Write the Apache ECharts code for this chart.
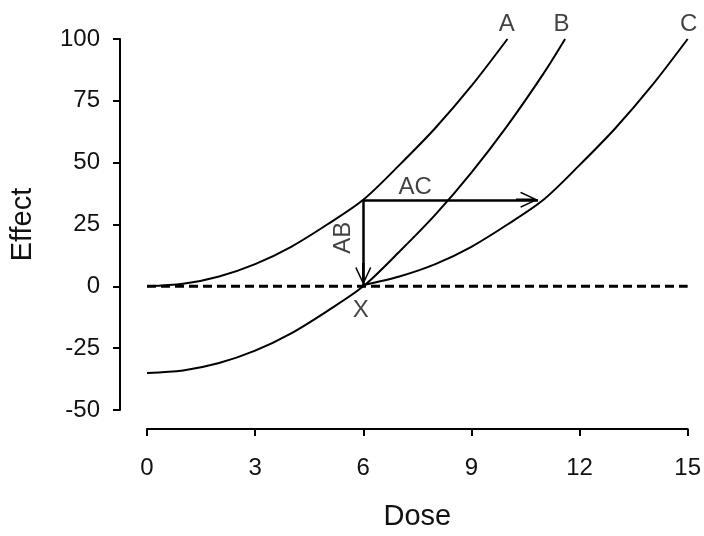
<!DOCTYPE html>
<html>
<head>
<meta charset="utf-8">
<script src="https://cdn.jsdelivr.net/npm/echarts@6/dist/echarts.min.js"></script>
<style>
  html, body { margin: 0; padding: 0; background: #fff; }
  #main { width: 704px; height: 536px; }
</style>
</head>
<body>
<div id="main"></div>
<script>
    // curves
    var doseA = [0, 1, 2, 3, 4, 5, 6, 7, 8, 9, 10];
    var effectA = [0, 1, 4, 9, 16, 25, 35, 49, 64, 81, 100];
    var doseB = [0, 1, 2, 3, 4, 5, 6, 7, 8, 9, 10, 11, 11.6];
    var effectB = [-35, -34, -31, -26, -19, -10, 0, 14, 29, 46, 65, 86, 100];
    var doseC = [6, 7, 8, 9, 10, 11, 12, 13, 14, 15];
    var effectC = [0.5, 4, 9, 16, 25, 35, 49, 64, 81, 100];
    var baseDose = [0, 15];
    var baseEffect = [0, 0];

    // arrows AB (down) and AC (right)
    var arrowFrom = [[6, 35], [6, 35]];
    var arrowTo = [[6, 0.5], [10.85, 35]];

    // text notes
    var noteText = ['A', 'B', 'C', 'AB', 'AC', 'X'];
    var noteX = [9.98, 11.5, 15.03, 5.46, 7.44, 5.93];
    var noteY = [106, 106, 106, 19.6, 40.2, -9.7];
    var noteRotate = [0, 0, 0, 90, 0, 0];

    function pairs(xs, ys) {
        return xs.map(function (x, i) { return [x, ys[i]]; });
    }

    var font = "'Liberation Sans', Arial, sans-serif";
    var ink = '#111';
    // arrow head with stem, tip at top
    var arrowHead = 'path://M0,0L8,17L6.8,18L1.2,6L1.2,22L-1.2,22L-1.2,6L-6.8,18L-8,17Z';

    var myChart = echarts.init(document.getElementById('main'));
    var option = {
        backgroundColor: '#fff',
        animation: false,
        grid: { left: 145, right: 15, top: 39, bottom: 118 },
        xAxis: {
            type: 'value',
            min: 0, max: 15, interval: 3,
            offset: 19,
            name: 'Dose',
            nameLocation: 'middle',
            nameGap: 73,
            nameTextStyle: { fontSize: 29, color: ink, fontFamily: font },
            axisLine: { onZero: false, lineStyle: { color: '#000', width: 2 } },
            axisTick: { length: 7, lineStyle: { color: '#000', width: 2 } },
            axisLabel: { fontSize: 24, color: ink, margin: 27, fontFamily: font },
            splitLine: { show: false }
        },
        yAxis: {
            type: 'value',
            min: -50, max: 100, interval: 25,
            offset: 27,
            name: 'Effect',
            nameLocation: 'middle',
            nameGap: 83,
            nameTextStyle: { fontSize: 29, color: ink, fontFamily: font },
            axisLine: { onZero: false, lineStyle: { color: '#000', width: 2 } },
            axisTick: { length: 7, lineStyle: { color: '#000', width: 2 } },
            axisLabel: { fontSize: 24, color: ink, margin: 20, fontFamily: font },
            splitLine: { show: false }
        },
        series: [
            {
                name: 'baseline',
                type: 'line',
                data: pairs(baseDose, baseEffect),
                showSymbol: false,
                lineStyle: { color: '#000', width: 3, type: [9, 5] },
                markLine: {
                    silent: true,
                    symbol: ['none', arrowHead],
                    symbolSize: [16, 22],
                    symbolOffset: [0, [0, '50%']],
                    label: { show: false },
                    lineStyle: { color: '#000', width: 2.5, type: 'solid' },
                    data: arrowFrom.map(function (p, i) {
                        return [{ coord: p }, { coord: arrowTo[i] }];
                    })
                }
            },
            {
                name: 'A', type: 'line', smooth: 0.3, showSymbol: false,
                data: pairs(doseA, effectA),
                lineStyle: { color: '#000', width: 2 }
            },
            {
                name: 'B', type: 'line', smooth: 0.3, showSymbol: false,
                data: pairs(doseB, effectB),
                lineStyle: { color: '#000', width: 2 }
            },
            {
                name: 'C', type: 'line', smooth: 0.3, showSymbol: false,
                data: pairs(doseC, effectC),
                lineStyle: { color: '#000', width: 2 }
            },
            {
                name: 'notes',
                type: 'scatter',
                clip: false,
                symbolSize: 0,
                silent: true,
                data: noteText.map(function (t, i) {
                    return {
                        value: [noteX[i], noteY[i]],
                        label: {
                            show: true,
                            position: 'inside',
                            formatter: t,
                            rotate: noteRotate[i],
                            fontSize: 24,
                            color: ink,
                            fontFamily: font
                        }
                    };
                })
            }
        ]
    };
    myChart.setOption(option);
</script>
</body>
</html>
